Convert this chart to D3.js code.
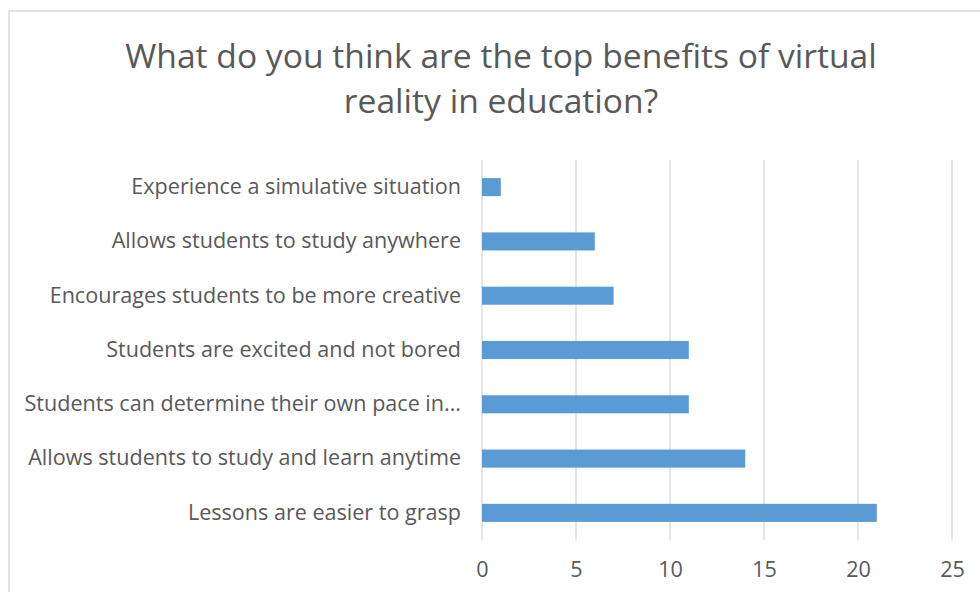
<!DOCTYPE html>
<html>
<head>
<meta charset="utf-8">
<script src="https://cdn.jsdelivr.net/npm/d3@7"></script>
<style>
  body { margin: 0; background: #fff; }
  text { font-family: "Open Sans", "Noto Sans", sans-serif; fill: #595959; }
</style>
</head>
<body>
<div id="chart"></div>
<script>
// data
const categories = [
  "Experience a simulative situation",
  "Allows students to study anywhere",
  "Encourages students to be more creative",
  "Students are excited and not bored",
  "Students can determine their own pace in...",
  "Allows students to study and learn anytime",
  "Lessons are easier to grasp"
];
const values = [1, 6, 7, 11, 11, 14, 21];
const tickValues = [0, 5, 10, 15, 20, 25];
const titleLines = ["What do you think are the top benefits of virtual", "reality in education?"];

const W = 980, H = 592;
const margin = {top: 160, right: 28, bottom: 52, left: 482};
const width = W - margin.left - margin.right,
      height = H - margin.top - margin.bottom;

const svg = d3.select("#chart").append("svg")
  .attr("width", W)
  .attr("height", H);

// chart frame
svg.append("rect")
  .attr("x", 9).attr("y", 11)
  .attr("width", 1000).attr("height", 1000)
  .attr("fill", "none")
  .attr("stroke", "#d9d9d9")
  .attr("stroke-width", 1.5);

// title
const title = svg.append("g").selectAll("text")
  .data(titleLines)
  .join("text")
  .attr("x", 501)
  .attr("y", (d, i) => 68 + i * 45)
  .attr("text-anchor", "middle")
  .style("font-size", "32px")
  .text(d => d);
// fit title size to the reference width
let tw = title.nodes()[0].getComputedTextLength();
title.style("font-size", (32 * 752 / tw) + "px");

const g = svg.append("g")
  .attr("transform", `translate(${margin.left},${margin.top})`);

const x = d3.scaleLinear()
  .domain([0, 25])
  .range([0, width]);

const y = d3.scaleBand()
  .domain(categories)
  .range([0, height])
  .paddingInner(0.667)
  .paddingOuter(0.333);

// gridlines
g.append("g")
  .selectAll("line")
  .data(tickValues)
  .join("line")
  .attr("x1", d => x(d)).attr("x2", d => x(d))
  .attr("y1", 0).attr("y2", height)
  .attr("stroke", "#d9d9d9")
  .attr("stroke-width", 1.3);

// x axis labels
const xAxis = g.append("g")
  .attr("transform", `translate(0,${height})`)
  .call(d3.axisBottom(x).tickValues(tickValues).tickSize(0).tickPadding(22));
xAxis.select(".domain").remove();

// y axis labels
const yAxis = g.append("g")
  .call(d3.axisLeft(y).tickSize(0).tickPadding(21));
yAxis.select(".domain").remove();

svg.selectAll(".tick text")
  .style("font-family", "'Open Sans', 'Noto Sans', sans-serif")
  .attr("fill", "#595959")
  .style("font-size", "18px");

// fit label size to the reference width of the longest label
const longest = yAxis.selectAll(".tick text").filter(d => d === categories[5]).node();
const lw = longest.getComputedTextLength();
svg.selectAll(".tick text").style("font-size", (18 * 433 / lw) + "px");

// bars
g.append("g")
  .selectAll("rect")
  .data(values)
  .join("rect")
  .attr("x", x(0))
  .attr("y", (d, i) => y(categories[i]))
  .attr("width", d => x(d) - x(0))
  .attr("height", y.bandwidth())
  .attr("fill", "#5b9bd5");
</script>
</body>
</html>
